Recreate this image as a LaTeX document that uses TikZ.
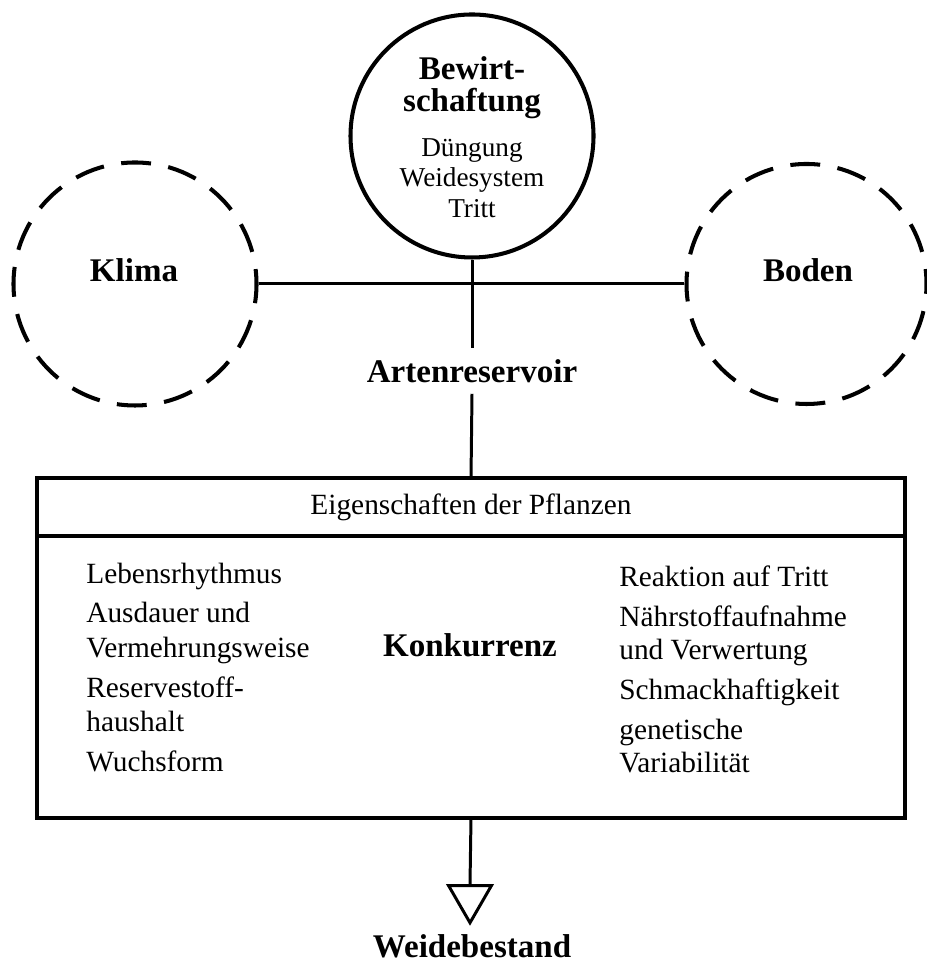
\documentclass[tikz,border=0pt]{standalone}
\usepackage{fontspec}
\setmainfont{Liberation Serif}
\usetikzlibrary{shapes.geometric}

\begin{document}
\begin{tikzpicture}[
    leitung/.style={line width=1.7pt},
    kreis/.style={circle,draw,line width=2.3pt,minimum size=4.86cm,inner sep=0pt},
    gestrichelt/.style={kreis,dash pattern=on 17pt off 10pt,dash phase=8.5pt},
    fett/.style={font=\fontsize{18.8}{22}\selectfont\bfseries},
    normal/.style={font=\fontsize{16.7}{19}\selectfont},
    klein/.style={font=\fontsize{15.5}{18}\selectfont},
    zeile/.style={normal,anchor=base west,inner sep=0pt},
    rahmen/.style={draw,line width=2.3pt,minimum width=17.36cm,inner sep=0pt,outer sep=0pt}
]
\useasboundingbox (0,0) rectangle (18.54,19.26);
%   \foreach \i in {0,...,18} {
%       \draw [very thin,gray] (\i,0) -- (\i,19.26)  ;
%   }

    % Kreise
    \node [kreis] (bew) at (9.44,16.54) {};
    \node [gestrichelt] (klima) at (2.70,13.58) {};
    \node [gestrichelt,minimum size=4.80cm] (boden) at (16.13,13.58) {};

    \node [fett,anchor=base] (klimatext) at (2.68,13.62) {Klima};
    \node [fett,anchor=base] (bodentext) at (16.16,13.62) {Boden};

    \node [fett,anchor=base] (bew1) at (9.44,17.66) {Bewirt-};
    \node [fett,anchor=base] (bew2) at (9.44,17.02) {schaftung};
    \node [klein,anchor=base] (bew3) at (9.44,16.12) {Düngung};
    \node [klein,anchor=base] (bew4) at (9.44,15.52) {Weidesystem};
    \node [klein,anchor=base] (bew5) at (9.44,14.90) {Tritt};

    \node [fett,inner xsep=0pt,inner ysep=0.216cm] (arten) at (9.44,11.84) {Artenreservoir};

    % Kasten
    \node [rahmen,normal,minimum height=1.16cm] (kopf) at (9.42,9.12) {Eigenschaften der Pflanzen};
    \node [rahmen,minimum height=5.64cm,anchor=north] (feld) at (kopf.south) {};

    \foreach \y/\t [count=\i] in {7.58/Lebensrhythmus,6.80/Ausdauer und,6.10/Vermehrungsweise,
                                  5.30/Reservestoff-,4.62/haushalt,3.82/Wuchsform} {
        \node [zeile] (links\i) at (1.72,\y) {\t};
        }
    \foreach \y/\t [count=\i] in {7.52/Reaktion auf Tritt,6.72/Nährstoffaufnahme,6.06/und Verwertung,
                                  5.26/Schmackhaftigkeit,4.46/genetische,3.80/Variabilität} {
        \node [zeile] (rechts\i) at (12.38,\y) {\t};
        }

    \node [fett,anchor=base] (konk) at (9.40,6.12) {Konkurrenz};

    \node [draw,leitung,regular polygon,regular polygon sides=3,shape border rotate=180,
           minimum size=0.99cm,inner sep=0pt] (spitze) at (9.40,1.30) {};
    \node [fett,anchor=base] (weide) at (9.44,0.12) {Weidebestand};

    % Linien
    \draw [leitung] (klima.east) -- (boden.west);
    \draw [leitung] (bew.south) -- (arten.north);
    \draw [leitung] (arten.south) -- (kopf.north);
    \draw [leitung] (feld.south) -- (spitze.north);

\end{tikzpicture}
\end{document}
